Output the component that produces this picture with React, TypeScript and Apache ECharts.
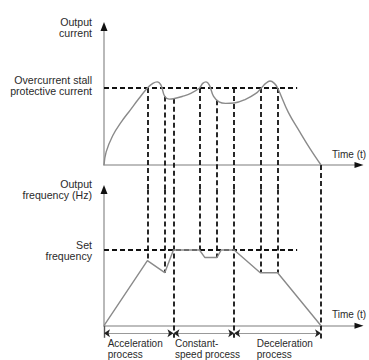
import React, { useEffect, useRef } from "react";
import * as echarts from "echarts";

// time axis (arbitrary time units)
const X_MAX = 11.75;
// output current (percentage of the stall threshold)
const CURRENT_MAX = 180;
const currentT = [0, 0.1, 0.4, 0.8, 1.2, 1.6, 2.0, 2.25, 2.45, 2.62, 2.8, 3.0, 3.2, 3.6, 4.0, 4.4, 4.55, 4.7, 4.85, 5.05, 5.3, 5.6, 6.0, 6.5, 7.0, 7.25, 7.45, 7.65, 7.85, 8.0, 8.5, 9.0, 9.5, 10.0];
const currentV = [0, 17, 38, 56, 71, 86, 100, 106, 108, 104, 89, 85.5, 86, 89, 93, 100, 106, 108, 104, 89, 82, 80, 80.5, 85, 93, 100, 106, 109, 106, 100, 68, 44, 21, 0];
const STALL_CURRENT = 100;
const THRESHOLD_END_T = 8.9;

// output frequency (Hz)
const FREQ_MAX = 90;
const freqT = [0, 2.0, 2.8, 3.2, 4.4, 4.65, 5.2, 5.4, 6.0, 7.2, 8.0, 10.0];
const freqV = [0, 43, 35, 50, 50, 45, 45, 50, 50, 35, 35, 0];
const SET_FREQ = 50;

// event markers (dashed verticals)
const eventT = [2, 2.8, 3.2, 4.4, 5.2, 6, 7.2, 8, 10];
const eventCurrentStart = [100, 89, 86, 100, 84, 100, 100, 100, 0];
const eventFreqEnd = [43, 35, -8, 50, 45, -8, 35, 35, -10.5];
const CURRENT_GAP = -31.7; // current-axis value where upper panel hands over to lower

// process phases
const phaseBounds = [0, 3.2, 6, 10];
const phaseLabels = ["Acceleration\nprocess", "Constant-\nspeed process", "Deceleration\nprocess"];
const PHASE_ARROW_Y = -5;

const FONT = "10.6px 'Liberation Sans', Arial, sans-serif";
const TEXT = "#2a2a2a";
const CURVE = "#8a8a8a";
const AXIS = "#a8a8a8";

export default function App() {
  const ref = useRef<HTMLDivElement>(null);
  useEffect(() => {
    if (!ref.current) return;
    const chart = echarts.init(ref.current, null, { renderer: "svg" });

    const grids = [
      { left: 104, top: 26.4, width: 255, height: 138.6 },
      { left: 104, top: 189.4, width: 255, height: 136.3 },
    ];
    const baseX = (gi: number, arrow: boolean) => ({
      type: "value",
      gridIndex: gi,
      min: 0,
      max: X_MAX,
      position: "bottom",
      axisLine: arrow
        ? { show: true, onZero: false, symbol: ["none", "triangle"], symbolSize: [6, 9], lineStyle: { color: "#111", width: 0 } }
        : { show: true, onZero: false, lineStyle: { color: AXIS, width: 1.6 } },
      axisTick: { show: false },
      axisLabel: { show: false },
      splitLine: { show: false },
    });
    const baseY = (gi: number, max: number, arrow: boolean) => ({
      type: "value",
      gridIndex: gi,
      min: 0,
      max,
      position: "left",
      axisLine: arrow
        ? { show: true, onZero: false, symbol: ["none", "triangle"], symbolSize: [7, 9], lineStyle: { color: "#111", width: 0 } }
        : { show: true, onZero: false, lineStyle: { color: AXIS, width: 1.6 } },
      axisTick: { show: false },
      axisLabel: { show: false },
      splitLine: { show: false },
    });

    const dashed = { color: "#111", width: 1.8, type: [5, 3] as any, opacity: 1 };

    const upperSegs = eventT.map((t, i) => ({ coords: [[t, eventCurrentStart[i]], [t, CURRENT_GAP]] }));
    const lowerSegs = eventT.map((t, i) => ({ coords: [[t, FREQ_MAX], [t, eventFreqEnd[i]]] }));
    const phaseSegs = phaseBounds.slice(0, -1).map((b, i) => ({ coords: [[b, PHASE_ARROW_Y], [phaseBounds[i + 1], PHASE_ARROW_Y]] }));

    const text = (x: number, y: number, t: string, align: string, font = FONT, lh = 11) => ({
      type: "text",
      x,
      y,
      style: { text: t, font, fill: TEXT, align, verticalAlign: "middle", lineHeight: lh },
    });

    const phaseX = [107.7, 175, 256.7];
    const TIME_FONT = "10px 'Liberation Sans', Arial, sans-serif";
    const PHASE_FONT = "10px 'Liberation Sans', Arial, sans-serif";

    chart.setOption({
      animation: false,
      grid: grids,
      xAxis: [baseX(0, false), baseX(1, false), baseX(0, true), baseX(1, true)],
      yAxis: [baseY(0, CURRENT_MAX, false), baseY(1, FREQ_MAX, false), baseY(0, CURRENT_MAX, true), baseY(1, FREQ_MAX, true)],
      series: [
        {
          type: "line",
          xAxisIndex: 0,
          yAxisIndex: 0,
          data: currentT.map((t, i) => [t, currentV[i]]),
          smooth: 0.4,
          showSymbol: false,
          symbol: "none",
          lineStyle: { color: CURVE, width: 1.4 },
          z: 3,
        },
        {
          type: "line",
          xAxisIndex: 0,
          yAxisIndex: 0,
          data: [[0, STALL_CURRENT], [THRESHOLD_END_T, STALL_CURRENT]],
          showSymbol: false,
          symbol: "none",
          lineStyle: dashed,
          z: 2,
        },
        {
          type: "lines",
          coordinateSystem: "cartesian2d",
          xAxisIndex: 0,
          yAxisIndex: 0,
          clip: false,
          data: upperSegs,
          lineStyle: dashed,
          z: 2,
        },
        {
          type: "line",
          xAxisIndex: 1,
          yAxisIndex: 1,
          data: freqT.map((t, i) => [t, freqV[i]]),
          showSymbol: false,
          symbol: "none",
          lineStyle: { color: CURVE, width: 1.4 },
          z: 3,
        },
        {
          type: "line",
          xAxisIndex: 1,
          yAxisIndex: 1,
          data: [[0, SET_FREQ], [THRESHOLD_END_T, SET_FREQ]],
          showSymbol: false,
          symbol: "none",
          lineStyle: dashed,
          z: 2,
        },
        {
          type: "lines",
          coordinateSystem: "cartesian2d",
          xAxisIndex: 1,
          yAxisIndex: 1,
          clip: false,
          data: lowerSegs,
          lineStyle: dashed,
          z: 2,
        },
        {
          type: "lines",
          coordinateSystem: "cartesian2d",
          xAxisIndex: 1,
          yAxisIndex: 1,
          clip: false,
          data: phaseSegs,
          lineStyle: { color: "#999", width: 1.2, type: "solid", opacity: 1 },
          z: 2,
        },
        {
          type: "lines",
          coordinateSystem: "cartesian2d",
          xAxisIndex: 1,
          yAxisIndex: 1,
          clip: false,
          data: phaseSegs,
          symbol: ["arrow", "arrow"],
          symbolSize: 6,
          lineStyle: { color: "#222", width: 0, opacity: 1 },
          z: 3,
        },
        {
          type: "lines",
          coordinateSystem: "cartesian2d",
          xAxisIndex: 1,
          yAxisIndex: 1,
          clip: false,
          data: [{ coords: [[phaseBounds[0], 0], [phaseBounds[0], -8]] }],
          lineStyle: { color: "#555", width: 1.4, opacity: 1 },
          z: 2,
        },
      ],
      graphic: [
        text(92, 27, "Output\ncurrent", "right"),
        text(92, 85, "Overcurrent stall\nprotective current", "right"),
        text(332, 154, "Time (t)", "left", TIME_FONT),
        text(92, 189.5, "Output\nfrequency (Hz)", "right"),
        text(92, 250, "Set\nfrequency", "right"),
        text(332, 314, "Time (t)", "left", TIME_FONT),
        ...phaseLabels.map((l, i) => text(phaseX[i], 348.6, l, "left", PHASE_FONT, 10.8)),
      ],
    });
    return () => chart.dispose();
  }, []);
  return <div ref={ref} style={{ position: "absolute", left: 0, top: 0, width: 369, height: 360 }} />;
}
